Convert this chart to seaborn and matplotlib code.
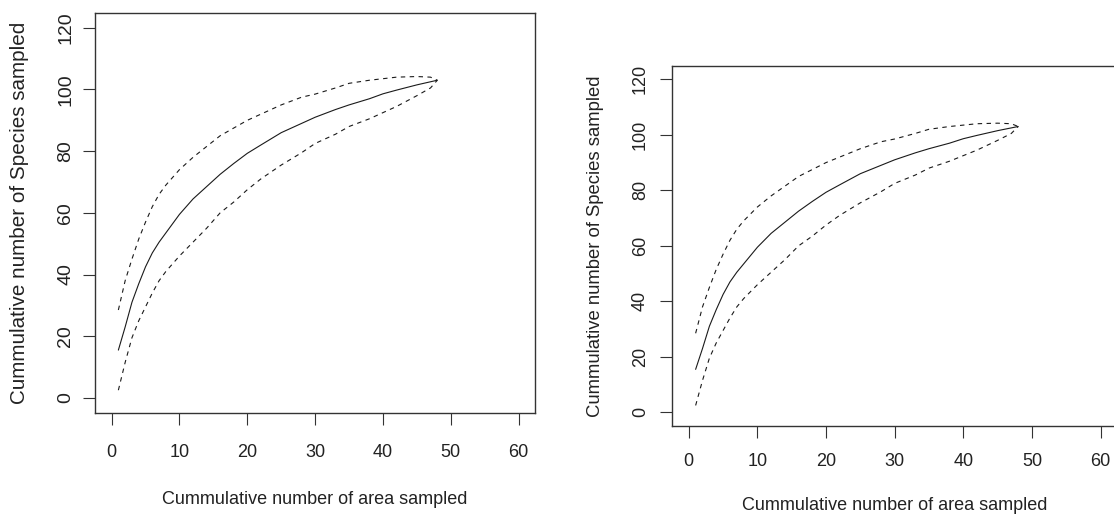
import numpy as np
import pandas as pd
import matplotlib
matplotlib.use("Agg")
import matplotlib.pyplot as plt
import seaborn as sns

# ---- data ----
area = [1, 2, 3, 4, 5, 6, 7, 8, 10, 12, 14, 16, 18, 20, 22, 25, 28, 30, 33, 35, 38, 40, 42, 45, 47, 48]
species_mean = [15.5, 23, 31, 37, 42.5, 47, 50.5, 53.5, 59.5, 64.5, 68.5, 72.5, 76, 79.3, 82, 86,
                89, 91, 93.5, 95, 97, 98.6, 99.8, 101.5, 102.5, 103]
species_upper = [28.5, 38, 45, 51.5, 57, 62, 66, 69, 74, 78, 81.5, 85, 87.5, 90, 92, 95,
                 97.5, 98.5, 100.5, 102, 103, 103.5, 104, 104.2, 104, 103]
species_lower = [2.5, 11.5, 19.5, 25, 29.5, 34, 38, 41, 46, 50.5, 55, 60, 63.5, 67.5, 71, 75.5,
                 79.5, 82.5, 85.5, 88, 90.5, 92.5, 94.5, 98, 100.5, 103]
x_ticks = [0, 10, 20, 30, 40, 50, 60]
y_ticks = [0, 20, 40, 60, 80, 100, 120]
x_label = "Cummulative number of area sampled"
y_label = "Cummulative number of Species sampled"

df = pd.concat([
    pd.DataFrame({"area": area, "species": species_mean, "curve": "mean"}),
    pd.DataFrame({"area": area, "species": species_upper, "curve": "upper"}),
    pd.DataFrame({"area": area, "species": species_lower, "curve": "lower"}),
], ignore_index=True)

sns.set_style("white")
plt.rcParams["font.family"] = ["Liberation Sans", "DejaVu Sans"]

W, H = 1114, 514
fig = plt.figure(figsize=(W / 100, H / 100), dpi=100)

def px_axes(l, t, r, b):
    return fig.add_axes([l / W, (H - b) / H, (r - l) / W, (b - t) / H])

panels = [
    dict(box=(95.3, 13, 535, 412.7), xl_y=500, yl_x=20, yl_size=14.9, yt_size=14, xpad=14.5, ypad=7.0),
    dict(box=(672.3, 66, 1117, 425.7), xl_y=506, yl_x=595.5, yl_size=13.3, yt_size=13, xpad=11.3, ypad=8.6),
]

for p in panels:
    ax = px_axes(*p["box"])
    sns.lineplot(data=df, x="area", y="species", style="curve",
                 dashes={"mean": "", "upper": (4, 4), "lower": (4, 4)},
                 color="#1a1a1a", linewidth=0.8, legend=False, sort=False,
                 estimator=None, ax=ax)
    ax.set_xlim(-2.4, 62.4)
    ax.set_ylim(-4.8, 124.8)
    ax.set_xticks(x_ticks)
    ax.set_yticks(y_ticks)
    ax.set_xticklabels([str(v) for v in x_ticks])
    ax.set_yticklabels([str(v) for v in y_ticks], rotation=90, va="center")
    ax.tick_params(axis="both", direction="out", length=8.3, width=0.8, color="#333333",
                   left=True, bottom=True, labelcolor="#222222")
    ax.tick_params(axis="x", labelsize=13, pad=p["xpad"])
    ax.tick_params(axis="y", labelsize=p["yt_size"], pad=p["ypad"])
    for s in ax.spines.values():
        s.set_visible(True)
        s.set_color("#333333")
        s.set_linewidth(1.0)
    ax.set_xlabel(x_label, fontsize=13, color="#222222")
    ax.set_ylabel(y_label, fontsize=p["yl_size"], color="#222222")
    ax.xaxis.set_label_coords(((p["box"][0] + p["box"][2]) / 2) / W, (H - p["xl_y"]) / H,
                              transform=fig.transFigure)
    ax.xaxis.label.set_va("center")
    ax.yaxis.set_label_coords(p["yl_x"] / W, (H - (p["box"][1] + p["box"][3]) / 2) / H,
                              transform=fig.transFigure)
    ax.yaxis.label.set_va("center")
    ax.yaxis.label.set_ha("center")
    ax.grid(False)

fig.savefig("out.png", dpi=100, facecolor="white")
